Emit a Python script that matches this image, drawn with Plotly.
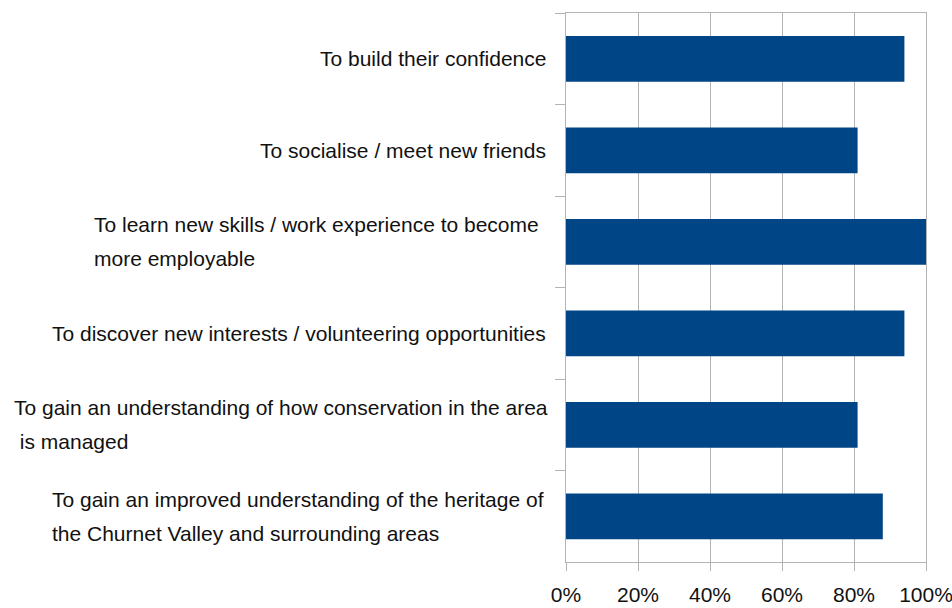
import plotly.graph_objects as go

# Survey: reasons young volunteers took part (share of respondents)
reason_lines = [
    ["To build their confidence"],
    ["To socialise / meet new friends"],
    ["To learn new skills / work experience to become", "more employable"],
    ["To discover new interests / volunteering opportunities"],
    ["To gain an understanding of how conservation in the area", "\u00a0is managed"],
    ["To gain an improved understanding of the heritage of", "the Churnet Valley and surrounding areas"],
]
shares = [0.94, 0.81, 1.00, 0.94, 0.81, 0.88]
x_ticks = [0, 0.2, 0.4, 0.6, 0.8, 1.0]
x_tick_labels = ["0%", "20%", "40%", "60%", "80%", "100%"]

# Label layout (pixels): single lines end just left of the axis,
# wrapped labels are left-aligned at a fixed start
LABEL_RIGHT_GAP = 18
WRAP_LEFT_PX = {2: 92, 4: 12, 5: 50}
LINE_OFFSET = 17

FONT = "Liberation Sans, Arial, sans-serif"
TEXT = "#111111"
GRID = "#b3b3b3"
BAR = "#004586"
MARGIN_L = 566

cat_ids = [f"c{i}" for i in range(len(reason_lines))]

fig = go.Figure(
    go.Bar(
        x=shares,
        y=cat_ids,
        orientation="h",
        marker=dict(color=BAR, line=dict(width=0)),
        hoverinfo="skip",
    )
)

for i, (cid, lines) in enumerate(zip(cat_ids, reason_lines)):
    if len(lines) == 1:
        fig.add_annotation(
            x=0, xref="paper", y=cid, yref="y",
            xanchor="right", yanchor="middle", xshift=-LABEL_RIGHT_GAP,
            text=lines[0], showarrow=False,
            font=dict(family=FONT, size=21, color=TEXT),
        )
    else:
        n = len(lines)
        for k, line in enumerate(lines):
            fig.add_annotation(
                x=0, xref="paper", y=cid, yref="y",
                xanchor="left", yanchor="middle",
                xshift=WRAP_LEFT_PX[i] - MARGIN_L,
                yshift=LINE_OFFSET * (n - 1 - 2 * k),
                text=line, showarrow=False,
                font=dict(family=FONT, size=21, color=TEXT),
            )

fig.update_layout(
    width=952, height=608,
    margin=dict(l=MARGIN_L, r=26, t=13, b=46),
    paper_bgcolor="white", plot_bgcolor="white",
    bargap=0.5, showlegend=False,
    font=dict(family=FONT, size=21, color=TEXT),
)
fig.update_xaxes(
    range=[0, 1.0], tickvals=x_ticks, ticktext=x_tick_labels,
    showgrid=True, gridcolor=GRID, gridwidth=1,
    showline=True, linecolor=GRID, linewidth=1, mirror=True,
    ticks="outside", ticklen=8, tickcolor=GRID, tickwidth=1,
    ticklabeloverflow="allow", ticklabelstandoff=6,
    automargin=False, zeroline=False, fixedrange=True,
    tickfont=dict(family=FONT, size=21, color=TEXT),
)
fig.update_yaxes(
    categoryorder="array", categoryarray=cat_ids, autorange="reversed",
    showticklabels=False, tickson="boundaries",
    ticks="outside", ticklen=10, tickcolor=GRID, tickwidth=1,
    showline=True, linecolor=GRID, linewidth=1, mirror=True,
    automargin=False, showgrid=False, zeroline=False, fixedrange=True,
)

fig.write_html("out.html")
